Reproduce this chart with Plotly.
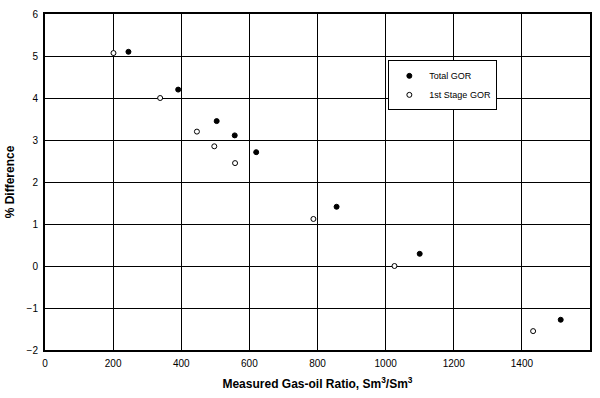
import plotly.graph_objects as go

# Measured gas-oil ratio (Sm3/Sm3) and % difference
total_gor_x = [245, 391, 504, 557, 620, 856, 1100, 1514]
total_gor_y = [5.10, 4.20, 3.45, 3.11, 2.71, 1.41, 0.29, -1.28]
stage1_gor_x = [201, 338, 446, 497, 558, 788, 1026, 1433]
stage1_gor_y = [5.07, 4.00, 3.20, 2.85, 2.45, 1.12, 0.00, -1.55]

series_names = ["Total GOR", "1st Stage GOR"]
series_fill = ["black", "white"]

x_ticks = [0, 200, 400, 600, 800, 1000, 1200, 1400, 1600]
y_ticks = [-2, -1, 0, 1, 2, 3, 4, 5, 6]

font = "Liberation Sans, Arial, sans-serif"

fig = go.Figure()
for name, xs, ys, fill in zip(series_names, [total_gor_x, stage1_gor_x],
                              [total_gor_y, stage1_gor_y], series_fill):
    fig.add_trace(go.Scatter(
        x=xs, y=ys, mode="markers", name=name,
        marker=dict(symbol="circle", size=5, color=fill,
                    line=dict(color="black", width=1)),
    ))

axis_common = dict(
    showgrid=True, gridcolor="black", gridwidth=1,
    showline=True, linecolor="black", linewidth=2, mirror=True,
    zeroline=False, ticks="", ticklabelstandoff=3,
    tickfont=dict(size=10, family=font, color="black"),
)

fig.update_layout(
    width=600, height=398,
    margin=dict(l=45, r=8, t=10, b=48),
    paper_bgcolor="white", plot_bgcolor="white",
    font=dict(family=font, color="black"),
    xaxis=dict(range=[0, 1600], tickvals=x_ticks,
               title=dict(text="<b>Measured Gas-oil Ratio, Sm<sup>3</sup>/Sm<sup>3</sup></b>",
                          font=dict(size=12, family=font), standoff=12),
               **axis_common),
    yaxis=dict(range=[-2, 6], tickvals=y_ticks,
               title=dict(text="<b>% Difference</b>",
                          font=dict(size=12, family=font), standoff=9),
               **axis_common),
    legend=dict(x=0.63, y=0.862, xanchor="left", yanchor="top",
                bgcolor="white", bordercolor="black", borderwidth=1,
                font=dict(size=9, family=font), itemwidth=30,
                tracegroupgap=0),
    showlegend=True,
)

fig.write_html("out.html")
